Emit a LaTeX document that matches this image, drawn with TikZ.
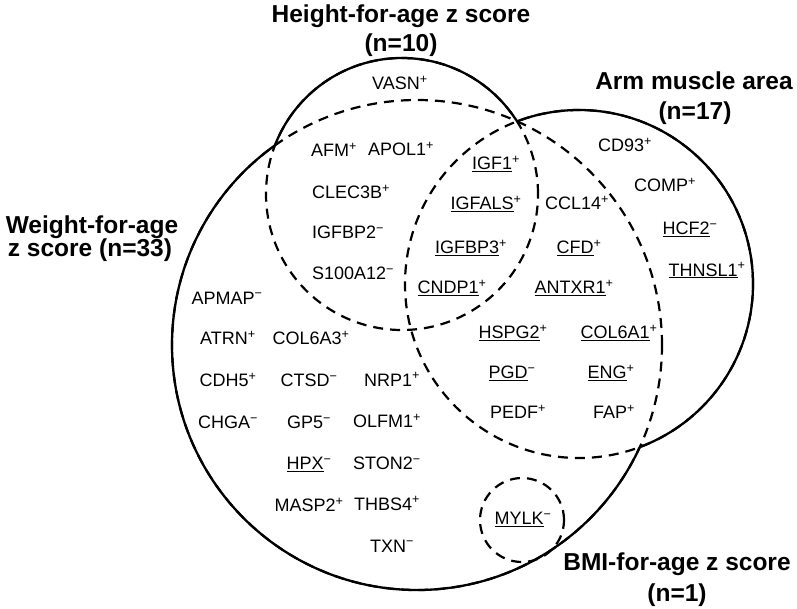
\documentclass[tikz,border=0pt]{standalone}
\usepackage{fontspec}
\setmainfont{Liberation Sans}
\newcommand{\gup}{\textsuperscript{+}}
\newcommand{\gdown}{\textsuperscript{−}}
\begin{document}
\begin{tikzpicture}[x=1pt,y=-1pt,
  gene/.style={font=\fontsize{18}{20}\selectfont, anchor=base, inner sep=0pt},
  ttl/.style={font=\fontsize{24.5}{28}\selectfont\bfseries, anchor=base, inner sep=0pt},
  border/.style={line width=2.3pt},
  inner/.style={line width=2.2pt, dash pattern=on 10pt off 7pt}]
  \useasboundingbox (0,0) rectangle (797,608);
  % circle centres
  \coordinate (wfa) at (417,345);
  \coordinate (hfa) at (402,194);
  \coordinate (ama) at (579,284);
  \coordinate (bmi) at (522,520);
  % all circles dashed first
  \draw[inner] (wfa) circle (245pt) (hfa) circle (136pt) (ama) circle (174pt) (bmi) circle (42pt);
  % solid outline where a circle lies outside the other two
  \foreach \c/\r/\a/\ra/\b/\rb in {wfa/245/hfa/136/ama/174, hfa/136/wfa/245/ama/174, ama/174/wfa/245/hfa/136}{
    \begin{scope}[even odd rule]
      \clip (0,0) rectangle (797,608) (\a) circle (\ra pt);
      \clip (0,0) rectangle (797,608) (\b) circle (\rb pt);
      \draw[border] (\c) circle (\r pt);
    \end{scope}
  }
  %--- titles ---
  \node[ttl] (hfa1) at (401,22) {Height-for-age z score};
  \node[ttl] (hfa2) at (401,51) {(n=10)};
  \node[ttl] (ama1) at (694,89) {Arm muscle area};
  \node[ttl] (ama2) at (695,119) {(n=17)};
  \node[ttl] (wfa1) at (92,233) {Weight-for-age};
  \node[ttl] (wfa2) at (90,256) {z score (n=33)};
  \node[ttl] (bmi1) at (677,570) {BMI-for-age z score};
  \node[ttl] (bmi2) at (677,601) {(n=1)};
  %--- proteins ---
  \foreach \x/\y/\g [count=\i] in {
    400/89.5/VASN\gup, 334/156.5/AFM\gup, 401/155.5/APOL1\gup,
    351/198.5/CLEC3B\gup, 348/238.5/IGFBP2\gdown, 353/279.5/S100A12\gdown,
    496/169.5/\underline{IGF1}\gup, 486/209.5/\underline{IGFALS}\gup,
    471/253.5/\underline{IGFBP3}\gup, 452/293.5/\underline{CNDP1}\gup,
    577/209.5/CCL14\gup, 579/253.5/\underline{CFD}\gup, 574/293.5/\underline{ANTXR1}\gup,
    625/151.5/CD93\gup, 665/191.5/COMP\gup, 690/234.5/\underline{HCF2}\gdown,
    707/276/\underline{THNSL1}\gup,
    227/304/APMAP\gdown,
    228/344.5/ATRN\gup, 311/344.5/COL6A3\gup,
    228/386.5/CDH5\gup, 309/386.5/CTSD\gdown, 392/386/NRP1\gup,
    228/428.5/CHGA\gdown, 309/428.5/GP5\gdown, 387/427.5/OLFM1\gup,
    309/469.5/\underline{HPX}\gdown, 387/469.5/STON2\gdown,
    309/511.5/MASP2\gup, 387/510/THBS4\gup,
    392/552/TXN\gdown,
    513/338.5/\underline{HSPG2}\gup, 619/338.5/\underline{COL6A1}\gup,
    512/378.5/\underline{PGD}\gdown, 611/378.5/\underline{ENG}\gup,
    518/418.5/PEDF\gup, 614/418.5/FAP\gup,
    523/524.5/\underline{MYLK}\gdown}{
    \node[gene] (g\i) at (\x,\y) {\g};
  }
\end{tikzpicture}
\end{document}
